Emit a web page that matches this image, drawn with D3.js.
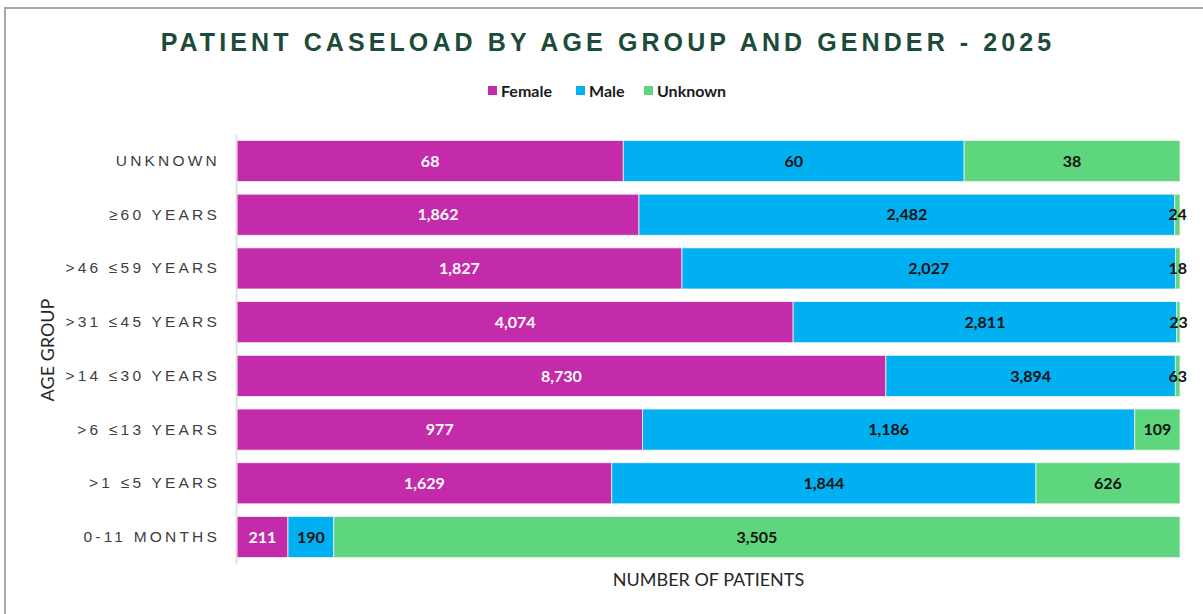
<!DOCTYPE html>
<html lang="en">
<head>
    <meta charset="UTF-8">
    <title>Patient caseload by age group and gender - 2025</title>
    <script src="https://d3js.org/d3.v7.min.js"></script>
    <style>
        body {
            margin: 0;
            background-color: #ffffff;
        }
        svg {
            display: block;
        }
        .title {
            font-family: "Liberation Sans", Arial, sans-serif;
            font-weight: bold;
            font-size: 25px;
            letter-spacing: 4.1px;
            fill: #1d4b3a;
        }
        .legend text {
            font-family: Lato, "Open Sans", sans-serif;
            font-weight: bold;
            font-size: 16px;
            fill: #1a1a1a;
        }
        .y-axis text {
            font-family: "Liberation Sans", Arial, sans-serif;
            font-size: 15.5px;
            letter-spacing: 3.2px;
            fill: #404040;
        }
        .axis-title {
            font-family: Lato, "Open Sans", sans-serif;
            font-size: 18px;
            fill: #262626;
        }
        .seg-label {
            font-family: Lato, "Open Sans", sans-serif;
            font-weight: bold;
            font-size: 16px;
        }
    </style>
</head>
<body>
    <svg id="chart" width="1203" height="614"></svg>

    <script>
        // age groups, top to bottom
        const ageGroups = ["UNKNOWN", "≥60 YEARS", ">46 ≤59 YEARS", ">31 ≤45 YEARS", ">14 ≤30 YEARS", ">6 ≤13 YEARS", ">1 ≤5 YEARS", "0-11 MONTHS"];
        const genders = ["Female", "Male", "Unknown"];
        const femaleCounts = [68, 1862, 1827, 4074, 8730, 977, 1629, 211];
        const maleCounts = [60, 2482, 2027, 2811, 3894, 1186, 1844, 190];
        const unknownCounts = [38, 24, 18, 23, 63, 109, 626, 3505];

        const colors = { Female: "#c42bab", Male: "#00b0f0", Unknown: "#5ed67d" };
        const labelColors = { Female: "#ffffff", Male: "#111111", Unknown: "#111111" };

        const rows = ageGroups.map((g, i) => ({
            group: g,
            Female: femaleCounts[i],
            Male: maleCounts[i],
            Unknown: unknownCounts[i]
        }));

        const svg = d3.select("#chart");

        // frame around the chart area
        svg.append("path")
            .attr("d", "M5,614 V8 H1203")
            .attr("fill", "none")
            .attr("stroke", "#a9a9a9")
            .attr("stroke-width", 2);

        svg.append("text")
            .attr("class", "title")
            .attr("x", 608)
            .attr("y", 51)
            .attr("text-anchor", "middle")
            .text("PATIENT CASELOAD BY AGE GROUP AND GENDER - 2025");

        // legend
        const legendItems = [
            { key: "Female", x: 490 },
            { key: "Male", x: 578 },
            { key: "Unknown", x: 646 }
        ];
        const legend = svg.append("g").attr("class", "legend");
        legendItems.forEach(d => {
            legend.append("rect")
                .attr("x", d.x - 2)
                .attr("y", 86)
                .attr("width", 9)
                .attr("height", 9)
                .attr("fill", colors[d.key]);
            legend.append("text")
                .attr("x", d.x + 11)
                .attr("y", 97)
                .text(d.key);
        });

        const margin = { top: 134, right: 22, bottom: 50, left: 236 };
        const width = 1203 - margin.left - margin.right;
        const height = 564 - margin.top;

        const g = svg.append("g").attr("transform", `translate(${margin.left},${margin.top})`);

        const x = d3.scaleLinear().domain([0, 1]).range([1, width - 1]);
        const y = d3.scaleBand().domain(ageGroups).range([0, height]).paddingInner(0.235).paddingOuter(0.12);

        const stack = d3.stack().keys(genders).offset(d3.stackOffsetExpand);
        const series = stack(rows);

        const layers = g.selectAll(".layer")
            .data(series)
            .enter().append("g")
            .attr("class", "layer")
            .attr("fill", d => colors[d.key]);

        layers.selectAll("rect")
            .data(d => d)
            .enter().append("rect")
            .attr("x", d => x(d[0]))
            .attr("y", d => y(d.data.group))
            .attr("width", d => x(d[1]) - x(d[0]))
            .attr("height", y.bandwidth())
            .attr("stroke", "#f2f2f2")
            .attr("stroke-width", 0.8);

        // value labels centred in each segment
        series.forEach(s => {
            g.selectAll(".lbl-" + s.key)
                .data(s)
                .enter().append("text")
                .attr("class", "seg-label lbl-" + s.key)
                .attr("x", d => (x(d[0]) + x(d[1])) / 2)
                .attr("y", d => y(d.data.group) + y.bandwidth() / 2)
                .attr("dy", "0.36em")
                .attr("text-anchor", "middle")
                .attr("fill", labelColors[s.key])
                .text(d => d3.format(",")(d.data[s.key]));
        });

        // y axis
        const yAxis = g.append("g")
            .attr("class", "y-axis")
            .call(d3.axisLeft(y).tickSize(0).tickPadding(16));
        yAxis.select(".domain").attr("stroke", "#d9d9d9").attr("stroke-width", 1.5);

        svg.append("text")
            .attr("class", "axis-title")
            .attr("transform", `translate(54,350) rotate(-90)`)
            .attr("text-anchor", "middle")
            .text("AGE GROUP");

        svg.append("text")
            .attr("class", "axis-title")
            .attr("x", margin.left + width / 2)
            .attr("y", 586)
            .attr("text-anchor", "middle")
            .text("NUMBER OF PATIENTS");
    </script>
</body>
</html>
